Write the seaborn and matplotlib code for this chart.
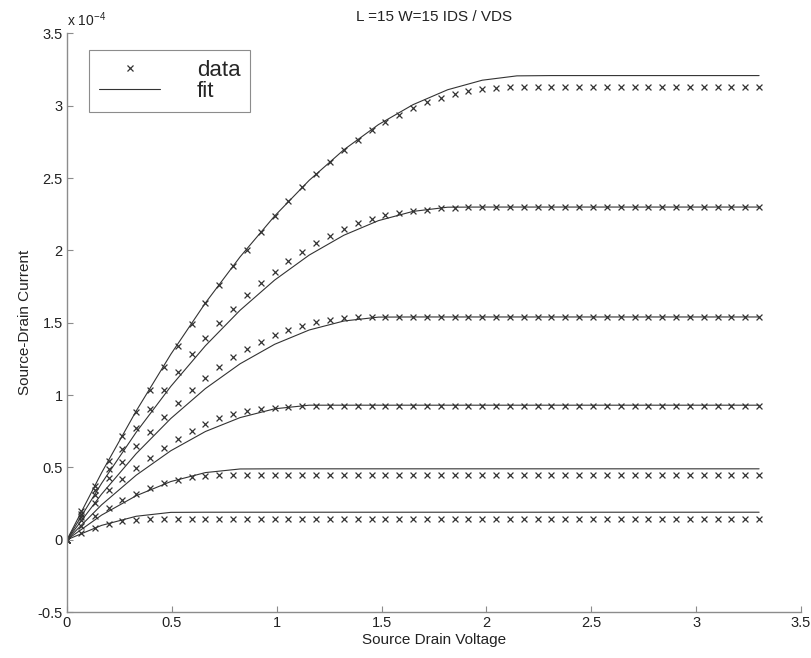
import pandas as pd
import matplotlib
matplotlib.use('Agg')
import matplotlib.pyplot as plt
import seaborn as sns
from matplotlib.lines import Line2D

# 1. DATA (Vds in volts, Ids in units of 1e-4 A)

vds = [0.000, 0.066, 0.132, 0.198, 0.264, 0.330, 0.396, 0.462, 0.528, 0.594,
       0.660, 0.726, 0.792, 0.858, 0.924, 0.990, 1.056, 1.122, 1.188, 1.254,
       1.320, 1.386, 1.452, 1.518, 1.584, 1.650, 1.716, 1.782, 1.848, 1.914,
       1.980, 2.046, 2.112, 2.178, 2.244, 2.310, 2.376, 2.442, 2.508, 2.574,
       2.640, 2.706, 2.772, 2.838, 2.904, 2.970, 3.036, 3.102, 3.168, 3.234,
       3.300]

# measured curves, highest gate voltage first
ids_data_1 = [0.000, 0.196, 0.369, 0.545, 0.715, 0.880, 1.037, 1.192, 1.342, 1.492,
              1.637, 1.763, 1.890, 2.006, 2.128, 2.236, 2.340, 2.436, 2.529, 2.612,
              2.692, 2.766, 2.831, 2.889, 2.939, 2.986, 3.024, 3.055, 3.082, 3.100,
              3.117, 3.126, 3.128, 3.131, 3.132, 3.133, 3.133, 3.133, 3.133, 3.133,
              3.133, 3.133, 3.133, 3.133, 3.133, 3.133, 3.133, 3.133, 3.133, 3.133,
              3.133]
ids_data_2 = [0.000, 0.178, 0.341, 0.486, 0.628, 0.770, 0.905, 1.035, 1.162, 1.282,
              1.395, 1.500, 1.598, 1.690, 1.775, 1.854, 1.926, 1.992, 2.050, 2.102,
              2.148, 2.187, 2.218, 2.242, 2.260, 2.273, 2.283, 2.290, 2.295, 2.298,
              2.300, 2.300, 2.300, 2.300, 2.300, 2.300, 2.300, 2.300, 2.300, 2.300,
              2.300, 2.300, 2.300, 2.300, 2.300, 2.300, 2.300, 2.300, 2.300, 2.300,
              2.300]
ids_data_3 = [0.000, 0.160, 0.310, 0.430, 0.540, 0.645, 0.748, 0.848, 0.942, 1.032,
              1.118, 1.196, 1.262, 1.320, 1.370, 1.413, 1.450, 1.480, 1.503, 1.520,
              1.531, 1.537, 1.540, 1.540, 1.540, 1.540, 1.540, 1.540, 1.540, 1.540,
              1.540, 1.540, 1.540, 1.540, 1.540, 1.540, 1.540, 1.540, 1.540, 1.540,
              1.540, 1.540, 1.540, 1.540, 1.540, 1.540, 1.540, 1.540, 1.540, 1.540,
              1.540]
ids_data_4 = [0.000, 0.135, 0.254, 0.345, 0.423, 0.495, 0.565, 0.633, 0.698, 0.754,
              0.802, 0.841, 0.869, 0.889, 0.904, 0.914, 0.920, 0.924, 0.926, 0.927,
              0.927, 0.927, 0.927, 0.927, 0.927, 0.927, 0.927, 0.927, 0.927, 0.927,
              0.927, 0.927, 0.927, 0.927, 0.927, 0.927, 0.927, 0.927, 0.927, 0.927,
              0.927, 0.927, 0.927, 0.927, 0.927, 0.927, 0.927, 0.927, 0.927, 0.927,
              0.927]
ids_data_5 = [0.000, 0.095, 0.165, 0.220, 0.272, 0.318, 0.357, 0.390, 0.415, 0.431,
              0.441, 0.446, 0.448, 0.449, 0.450, 0.450, 0.450, 0.450, 0.450, 0.450,
              0.450, 0.450, 0.450, 0.450, 0.450, 0.450, 0.450, 0.450, 0.450, 0.450,
              0.450, 0.450, 0.450, 0.450, 0.450, 0.450, 0.450, 0.450, 0.450, 0.450,
              0.450, 0.450, 0.450, 0.450, 0.450, 0.450, 0.450, 0.450, 0.450, 0.450,
              0.450]
ids_data_6 = [0.000, 0.048, 0.081, 0.108, 0.126, 0.137, 0.142, 0.144, 0.145, 0.145,
              0.145, 0.145, 0.145, 0.145, 0.145, 0.145, 0.145, 0.145, 0.145, 0.145,
              0.145, 0.145, 0.145, 0.145, 0.145, 0.145, 0.145, 0.145, 0.145, 0.145,
              0.145, 0.145, 0.145, 0.145, 0.145, 0.145, 0.145, 0.145, 0.145, 0.145,
              0.145, 0.145, 0.145, 0.145, 0.145, 0.145, 0.145, 0.145, 0.145, 0.145,
              0.145]

# fitted curves
vds_fit = [0.000, 0.165, 0.330, 0.495, 0.660, 0.825, 0.990, 1.155, 1.320, 1.485,
           1.650, 1.815, 1.980, 2.145, 2.310, 2.475, 2.640, 2.805, 2.970, 3.135,
           3.300]
ids_fit_1 = [0.000, 0.463, 0.890, 1.282, 1.637, 1.955, 2.238, 2.485, 2.696, 2.870,
             3.008, 3.111, 3.177, 3.207, 3.209, 3.209, 3.209, 3.209, 3.209, 3.209,
             3.209]
ids_fit_2 = [0.000, 0.390, 0.743, 1.060, 1.341, 1.586, 1.795, 1.968, 2.105, 2.206,
             2.270, 2.299, 2.300, 2.300, 2.300, 2.300, 2.300, 2.300, 2.300, 2.300,
             2.300]
ids_fit_3 = [0.000, 0.315, 0.595, 0.838, 1.045, 1.216, 1.351, 1.450, 1.512, 1.539,
             1.540, 1.540, 1.540, 1.540, 1.540, 1.540, 1.540, 1.540, 1.540, 1.540,
             1.540]
ids_fit_4 = [0.000, 0.241, 0.446, 0.615, 0.748, 0.844, 0.905, 0.930, 0.930, 0.930,
             0.930, 0.930, 0.930, 0.930, 0.930, 0.930, 0.930, 0.930, 0.930, 0.930,
             0.930]
ids_fit_5 = [0.000, 0.170, 0.304, 0.402, 0.464, 0.489, 0.490, 0.490, 0.490, 0.490,
             0.490, 0.490, 0.490, 0.490, 0.490, 0.490, 0.490, 0.490, 0.490, 0.490,
             0.490]
ids_fit_6 = [0.000, 0.099, 0.162, 0.189, 0.190, 0.190, 0.190, 0.190, 0.190, 0.190,
             0.190, 0.190, 0.190, 0.190, 0.190, 0.190, 0.190, 0.190, 0.190, 0.190,
             0.190]

x_ticks = [0, 0.5, 1, 1.5, 2, 2.5, 3, 3.5]
x_labels = ['0', '0.5', '1', '1.5', '2', '2.5', '3', '3.5']
y_ticks = [-0.5, 0, 0.5, 1, 1.5, 2, 2.5, 3, 3.5]
y_labels = ['-0.5', '0', '0.5', '1', '1.5', '2', '2.5', '3', '3.5']

# long-form tables for seaborn
data_curves = [ids_data_1, ids_data_2, ids_data_3, ids_data_4, ids_data_5, ids_data_6]
fit_curves = [ids_fit_1, ids_fit_2, ids_fit_3, ids_fit_4, ids_fit_5, ids_fit_6]

data_df = pd.concat([pd.DataFrame({'vds': vds, 'ids': c, 'curve': k})
                     for k, c in enumerate(data_curves)], ignore_index=True)
fit_df = pd.concat([pd.DataFrame({'vds': vds_fit, 'ids': c, 'curve': k})
                    for k, c in enumerate(fit_curves)], ignore_index=True)

# 2. PLOT
sns.set_theme(style='ticks')
plt.rcParams['font.family'] = ['Liberation Sans', 'DejaVu Sans']
plt.rcParams['axes.unicode_minus'] = False
plt.rcParams['mathtext.default'] = 'regular'

ink = '#333333'
text_ink = '#222222'
axis_grey = '#8c8c8c'

fig = plt.figure(figsize=(8.12, 6.58), dpi=100)
ax = fig.add_axes([0.0825, 0.0699, 0.904, 0.8792])

sns.lineplot(data=fit_df, x='vds', y='ids', units='curve', estimator=None,
             sort=False, color=ink, linewidth=0.8, ax=ax)
sns.scatterplot(data=data_df, x='vds', y='ids', marker='x', color=ink,
                s=18, linewidth=0.9, ax=ax)

ax.set_xlim(0, 3.5)
ax.set_ylim(-0.5, 3.5)
ax.set_xticks(x_ticks)
ax.set_xticklabels(x_labels)
ax.set_yticks(y_ticks)
ax.set_yticklabels(y_labels)
ax.tick_params(direction='in', length=4.5, width=0.8, color=axis_grey,
               labelsize=10.5, labelcolor=text_ink, pad=3)

sns.despine(ax=ax)
for side in ['left', 'bottom']:
    ax.spines[side].set_color(axis_grey)
    ax.spines[side].set_linewidth(1.0)

ax.set_xlabel('Source Drain Voltage', fontsize=11, color=text_ink, labelpad=2)
ax.set_ylabel('Source-Drain Current', fontsize=11, color=text_ink, labelpad=4)
ax.set_title('L =15 W=15 IDS / VDS', fontsize=11, color=text_ink, pad=9)
ax.text(0.0, 1.008, 'x 10$^{-4}$', transform=ax.transAxes, ha='left',
        va='bottom', fontsize=10, color=text_ink)

handles = [Line2D([], [], ls='none', marker='x', color=ink, markersize=5, mew=0.9),
           Line2D([], [], color=ink, linewidth=0.8)]
leg = ax.legend(handles, ['data', 'fit'], loc='upper left',
                bbox_to_anchor=(0.030, 0.9715), borderaxespad=0, fontsize=16,
                frameon=True, fancybox=False, framealpha=1, edgecolor=axis_grey,
                handlelength=2.75, handletextpad=1.65, labelspacing=0.0,
                borderpad=0.45)
leg.get_frame().set_linewidth(0.8)

plt.savefig('out.png', dpi=100)
